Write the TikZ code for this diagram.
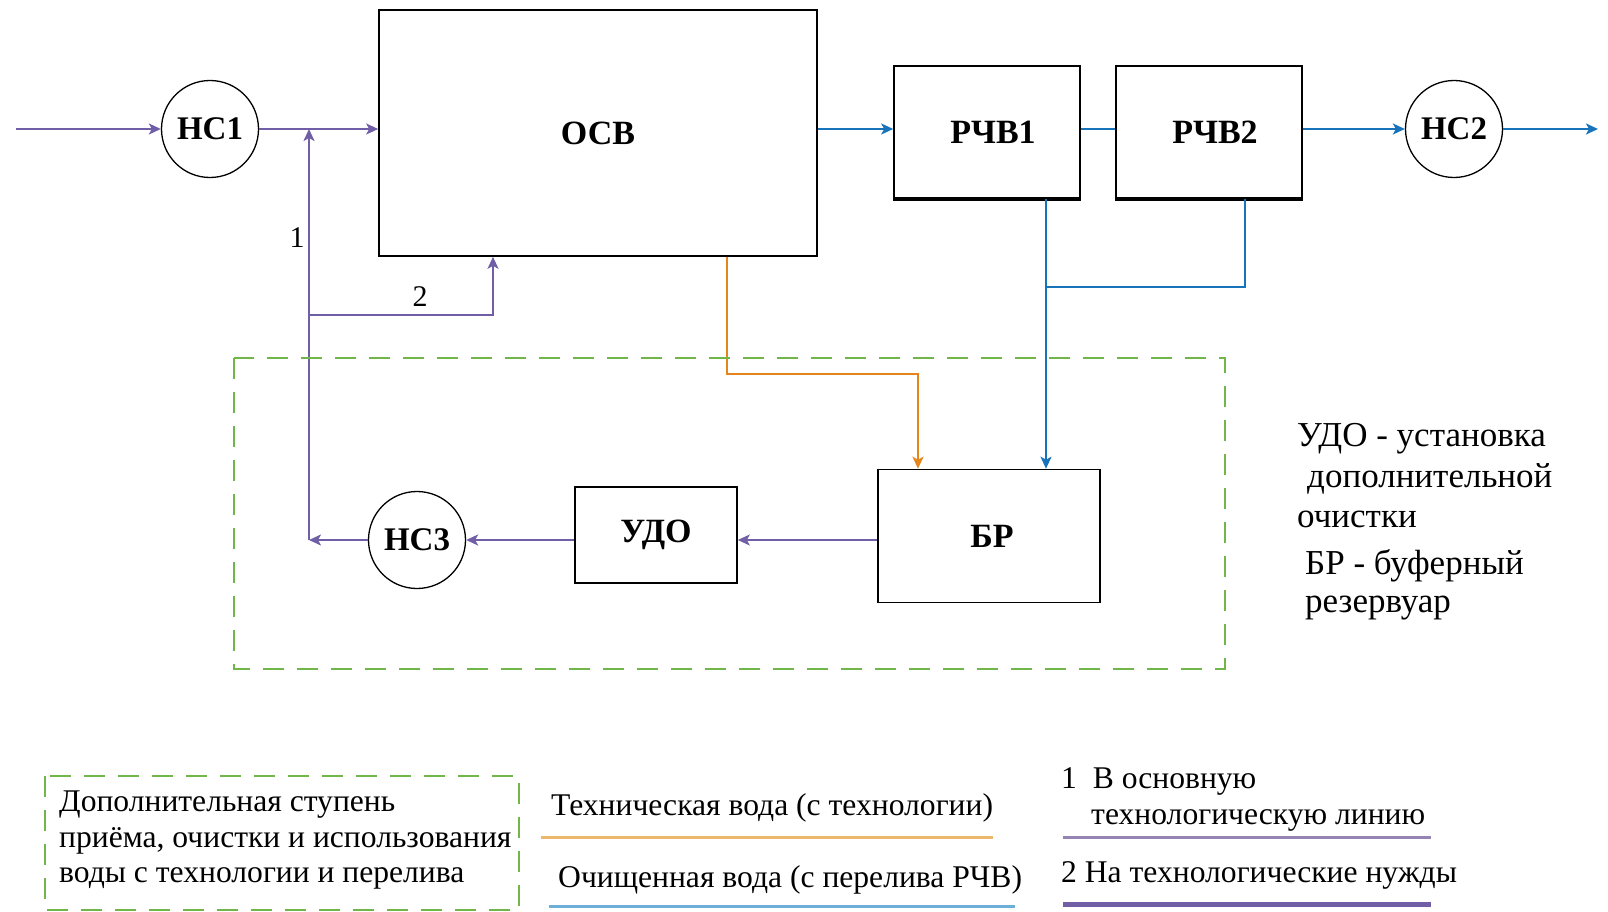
\documentclass[tikz,border=0pt]{standalone}
\usepackage{fontspec}
\setmainfont{Liberation Serif}
\usepackage{xcolor}
\usetikzlibrary{arrows.meta, positioning, calc}

\definecolor{lilac}{RGB}{112,94,166}
\definecolor{lilaclight}{RGB}{150,132,180}
\definecolor{water}{RGB}{24,116,186}
\definecolor{waterlight}{RGB}{110,175,215}
\definecolor{tech}{RGB}{228,134,28}
\definecolor{techlight}{RGB}{236,184,110}
\definecolor{zone}{RGB}{112,182,72}

\tikzset{
  unit/.style={draw, line width=1.6pt, inner sep=0pt, font=\fontsize{34}{34}\selectfont\bfseries},
  pump/.style={circle, draw, line width=1.3pt, minimum size=97pt, inner sep=0pt, font=\fontsize{33}{33}\selectfont\bfseries},
  tip/.style={-{Stealth[length=12pt,width=11pt,inset=3pt]}},
  flow/.style={lilac, line width=2pt, tip},
  clean/.style={water, line width=2pt, tip},
  techflow/.style={tech, line width=2.4pt, tip},
  zonebox/.style={zone, line width=2.4pt, dash pattern=on 21pt off 13pt},
  note/.style={anchor=west, inner sep=0pt, font=\fontsize{35}{35}\selectfont},
  key/.style={anchor=west, inner sep=0pt, font=\fontsize{31.6}{31.6}\selectfont},
}

\begin{document}
\begin{tikzpicture}[x=1pt, y=-1pt]
\useasboundingbox (0,0) rectangle (1608,912);

% Units
\node[unit, minimum width=438pt, minimum height=246pt] (osv) at (598,133) {ОСВ};
\node[unit, minimum width=186pt, minimum height=132pt] (rchv1) at (987,132) {\hspace*{12pt}РЧВ1};
\node[unit, minimum width=186pt, minimum height=132pt] (rchv2) at (1209,132) {\hspace*{12pt}РЧВ2};
\node[unit, minimum width=222pt, minimum height=133pt] (br) at (989,536) {\hspace*{6pt}БР};
\node[unit, minimum width=162pt, minimum height=96pt] (udo) at (656,535) {УДО};
\draw[line width=4pt] (rchv1.south west) -- (rchv1.south east);
\draw[line width=4pt] (rchv2.south west) -- (rchv2.south east);

% Pumps
\node[pump] (ns1) at (210,129) {НС1};
\node[pump] (ns2) at (1454,129) {НС2};
\node[pump] (ns3) at (417,540) {НС3};

% Main line
\coordinate (in) at (16,129);
\coordinate (out) at (1598,129);
\draw[flow] (in) -- (ns1.west);
\draw[flow] (ns1.east) -- (ns1 -| osv.west);
\draw[clean] (osv.east |- ns1) -- (rchv1.west |- ns1);
\draw[clean, -] (rchv1.east |- ns1) -- (rchv2.west |- ns1);
\draw[clean] (rchv2.east |- ns1) -- (ns2.west);
\draw[clean] (ns2.east) -- (out);

% Return from NS3
\coordinate (j1) at (309,129);
\coordinate (j2) at (309,315);
\coordinate (fb) at (309,540);
\draw[flow] (ns3.west) -- (fb);
\draw[flow] (fb) -- (j1);
\draw[flow] (j2) -| ([xshift=-105pt]osv.south);
\node[font=\fontsize{30}{30}\selectfont] (lbl1) at (297,238) {1};
\node[font=\fontsize{30}{30}\selectfont] (lbl2) at (420,297) {2};

% Buffer loop
\draw[flow] (br.west |- ns3) -- (udo.east |- ns3);
\draw[flow] (udo.west |- ns3) -- (ns3.east);

% Technical water
\coordinate (tb) at (918,374);
\draw[techflow] ([xshift=129pt]osv.south) |- (tb) -- (tb |- br.north);

% Overflow
\coordinate (bj) at (1046,287);
\draw[clean] ([xshift=59pt]rchv1.south) -- ([xshift=59pt]rchv1.south |- br.north);
\draw[clean, -] ([xshift=36pt]rchv2.south) |- (bj);

% Extra stage
\draw[zonebox] (234,358) rectangle (1225,669);

% Notes
\foreach \x/\y/\t [count=\i] in {1297/439/{УДО - установка}, 1307/479/дополнительной, 1297/519/очистки, 1305/566/{БР - буферный}, 1305/608/резервуар}
  \node[note] (side\i) at (\x,\y) {\t};

% Legend
\draw[zonebox] (45,776) rectangle (519,910);
\node[key] (keyzone1) at (59,805) {Дополнительная ступень};
\node[key] (keyzone2) at (59,841) {приёма, очистки и использования};
\node[key] (keyzone3) at (59,878) {воды с технологии и перелива};
\node[key] (keytech) at (551,808) {Техническая вода (с технологии)};
\draw[techlight, line width=3pt] (541,837) -- (993,837);
\node[key] (keyclean) at (558,880) {Очищенная вода (с перелива РЧВ)};
\draw[waterlight, line width=3pt] (549,906) -- (1015,906);
\node[key] (keyone) at (1061,781) {1\enspace В основную};
\node[key] (keyone2) at (1091,820) {технологическую линию};
\draw[lilaclight, line width=3pt] (1063,837) -- (1431,837);
\node[key] (keytwo) at (1061,875) {2 На технологические нужды};
\draw[lilac, line width=5pt] (1063,904) -- (1431,904);
\end{tikzpicture}
\end{document}
